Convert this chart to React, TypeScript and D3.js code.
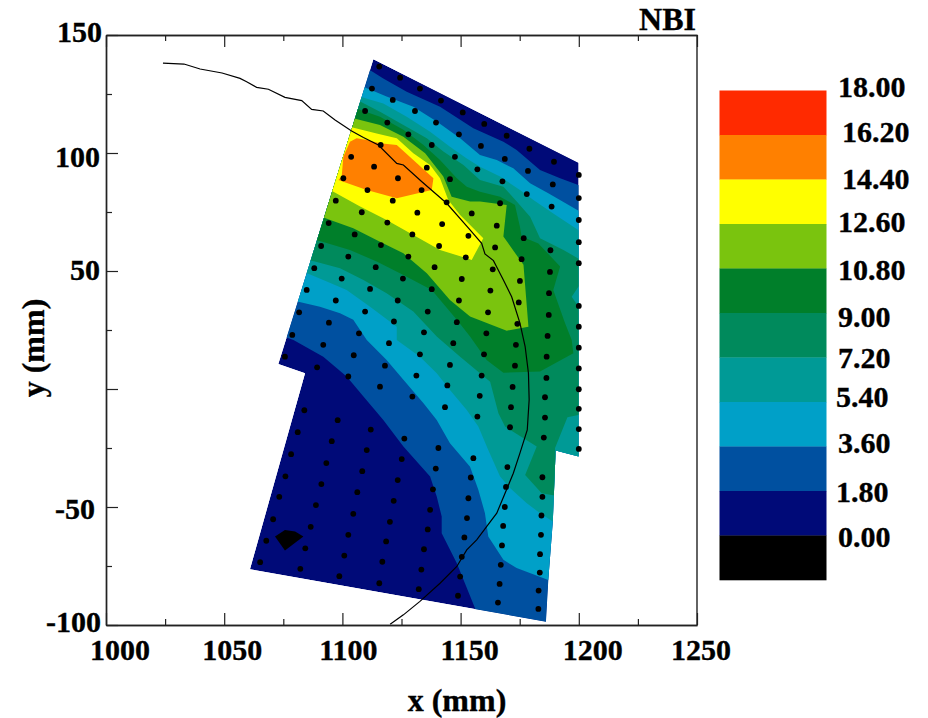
import * as d3 from "d3";
import {useEffect, useRef} from "react";

type Pt = [number, number];

// outline of the scanned area (mm)
const outline: Pt[] = [[1113.1,139.7],[1199.9,95.9],[1199.9,-28.6],[1190.2,-26.1],[1189,-56.2],[1187.1,-80.9],[1186.1,-98.6],[1060.9,-76.4],[1084.2,6.7],[1072.9,10.6]];

// filled regions, each one is "value >= level", painted low to high and clipped by the outline
const above1p8: Pt[] = [[1107.5,136.6],[1112.1,134.9],[1117.3,131.6],[1127.2,126],[1141.3,119.6],[1155.4,110.5],[1168.1,104.8],[1173.7,101.3],[1183.6,92.8],[1192.1,89.3],[1201.9,85.7],[1211.8,73],[1211.8,-110.5],[1158.2,-110.5],[1156.1,-92.9],[1148.4,-73.8],[1142,-61.1],[1142,-54],[1139.9,-45.6],[1137.1,-37.1],[1125.8,-24.4],[1117.3,-13.1],[1108.9,-3.2],[1101.8,5.3],[1091.9,13.7],[1079.3,20.8],[1076,21.9],[1070.8,22.9]];
const above3p6: Pt[] = [[1104.6,129.5],[1109.6,127.8],[1118.7,123.9],[1130,119.6],[1139.9,113.3],[1149.8,106.2],[1158.2,99.2],[1165.3,97],[1172.3,93.5],[1179.4,87.2],[1187.1,82.9],[1201.9,74.4],[1211.8,58.9],[1211.8,-83.7],[1187.1,-80.9],[1173.7,-75.9],[1168.1,-72.4],[1161.7,-62.5],[1160.3,-52.6],[1157.5,-42.7],[1154,-32.9],[1145.5,-23],[1139.9,-13.1],[1134.3,-6],[1125.8,3.9],[1118.7,12.3],[1110.3,20.8],[1104.6,29.3],[1099,32.1],[1090.5,34.9],[1081.4,37],[1073.6,38.4]];
const above5p4: Pt[] = [[1101.8,125.3],[1107.2,123.9],[1117.3,121],[1127.2,115.4],[1137.1,109],[1145.5,102.7],[1152.6,97.7],[1158.2,94.2],[1166.7,90],[1175.1,84.3],[1180.8,80.1],[1189.2,74.4],[1201.9,66],[1211.8,58.9],[1211.8,-58.3],[1189.2,-56.2],[1183.6,-52.6],[1178,-48.4],[1170.9,-42],[1166.7,-37.1],[1161.7,-25.8],[1157.5,-15.9],[1152.6,-8.9],[1145.5,-0.4],[1139.9,6.7],[1132.8,13.7],[1123,20.8],[1123,26.4],[1111.7,34.9],[1101.8,42],[1093.4,45.5],[1085.6,48.8],[1079.3,50.4]];
const above7p2: Pt[] = [[1101.8,122.5],[1107.5,121.8],[1115.9,117.5],[1125.8,111.9],[1135.7,106.2],[1142.7,100.6],[1151.2,94.9],[1158.2,88.6],[1168.1,85.7],[1174.4,78.7],[1179.4,73],[1183.6,63.9],[1193.5,58.9],[1203.3,53.3],[1203.3,44.8],[1199.9,43.4],[1197,39.1],[1199.9,34.9],[1203.3,33.5],[1203.3,-10.3],[1199.8,-11],[1195.2,-12],[1189.9,-25.1],[1192.1,-45.6],[1184.3,-44.2],[1177.3,-36.4],[1182.2,-24.4],[1168.8,-15.9],[1166,-10.3],[1162.5,3.1],[1158.2,6.7],[1149.8,13.7],[1139.9,22.2],[1130,32.8],[1118.7,40.6],[1108.9,46.2],[1099,51.2],[1088.4,54],[1082,55.4]];
const above9: Pt[] = [[1101.8,120.3],[1106.8,118.5],[1115.9,115.4],[1125.8,109.8],[1134.3,103.4],[1141.3,97],[1148.4,89.3],[1152.6,85.7],[1158.2,83.6],[1166.7,81.5],[1173,78],[1175.1,68.8],[1175.8,64.6],[1182.9,61.7],[1192.1,51.9],[1189.2,42],[1194.2,27.9],[1197,20.8],[1197.7,15.1],[1183.6,7.4],[1168.1,6.9],[1161,12.3],[1154,22.2],[1148.4,29.3],[1137.8,42],[1125.8,48.3],[1114.5,54],[1103.2,58.9],[1091.2,62.5],[1084.9,63.9]];
const above10p8: Pt[] = [[1100.4,116.1],[1104.6,114.7],[1115.9,111.9],[1125.8,106.9],[1135,99.9],[1142.7,90],[1146.2,81.5],[1154,79.4],[1158.2,79.4],[1169.5,78],[1168.1,64.6],[1176.6,52.6],[1178.7,26.4],[1169.5,24.7],[1154,30.7],[1145.5,37.7],[1135.7,49],[1125.8,57.5],[1115.9,62.4],[1104.6,68.1],[1094,71.9],[1087.7,74.4]];
const above12p6: Pt[] = [[1099,112.6],[1103.9,110.9],[1114.5,108.3],[1123,106.2],[1130,99.9],[1137.1,94.9],[1141.3,89.3],[1144.8,80.1],[1149.8,73.7],[1159.6,63.9],[1154.7,54.7],[1152.6,55.4],[1141.3,58.9],[1130,65.3],[1118.7,71.6],[1107.5,77.3],[1096.2,83.6],[1090.5,86.4]];
const above14p4: Pt[] = [[1106,106.2],[1103.2,104.8],[1100.4,98.4],[1099.7,90],[1098.3,88.6],[1110.3,84.3],[1123,80.8],[1137.8,84.3],[1138.5,89.3],[1130,97],[1123,103.4],[1115.9,104.1],[1110.3,105.5]];
const below0: Pt[] = [[1071.5,-62.5],[1075.7,-59.7],[1080,-60.4],[1083.5,-62.5],[1075.7,-68.4]];

// LCFS style curve
const boundaryCurve: Pt[] = [[1024.1,138.1],[1033,137.7],[1039.8,135.6],[1049.1,133.9],[1056.7,131.6],[1059.5,130.2],[1063.7,127.8],[1068.7,127],[1075.7,123.6],[1082.8,122.2],[1087,118.5],[1091.9,117.8],[1096.9,114],[1103.9,109.3],[1108.9,106.6],[1115.2,103.4],[1123,95.6],[1125.8,94.9],[1133.5,87.9],[1144.1,78.7],[1154,67.4],[1158.9,61.7],[1160.3,57.2],[1163.9,54.4],[1168.1,46.2],[1171.6,39.1],[1175.1,27.9],[1177.3,18],[1178.7,6.7],[1179,-4.6],[1178.2,-17.3],[1175.1,-27.2],[1172.3,-35.7],[1168.8,-44.2],[1165.3,-52.6],[1161,-58.3],[1156.8,-63.9],[1152.6,-68.2],[1148.4,-75.2],[1141.3,-82.3],[1132.8,-90],[1125.8,-95.7],[1120.2,-99.7]];

// measurement points
const pointsTop: Pt[] = [[1115.6,136.6],[1124.4,131.9],[1132.8,127.3],[1141.7,122.2],[1150.9,117.2],[1160,112.3],[1169.5,107.3],[1179.1,101.8],[1189.5,96.3],[1200,90.7],[1112.5,127.3],[1121.3,122.5],[1130.7,117.8],[1139.6,112.9],[1149.3,107.9],[1158.6,103],[1168.7,97.5],[1178.5,92.4],[1189,86.7],[1200,80.9],[1109.6,117.8],[1119,112.9],[1127.9,107.9],[1137.8,103.4],[1147.6,98.4],[1157.1,93.1],[1167.7,88],[1178,82.6],[1188.5,77.3],[1200,71.6]];
const pointsMiddle: Pt[] = [[1116.2,103.4],[1103.7,98.4],[1113.4,94.2],[1123.5,89.3],[1100.4,89.3],[1110.6,84.3],[1121.3,79.8],[1133.5,84.3],[1135.7,93.8],[1145.5,88.9],[1144.1,79.1],[1154.7,74.4],[1166.7,78.7],[1165.3,69.2],[1142.2,69.9],[1131.7,74.7],[1108.2,74.9],[1097.2,79.8],[1119,70.5],[1094.2,70.3],[1105.2,65.5],[1129.6,65.5],[1153.3,64.9],[1176.7,63.9],[1188,58.8],[1200,62.2],[1116.3,61],[1140.9,60.6],[1091,60.6],[1164.6,60],[1102.5,56.1],[1127.9,56.1],[1152.2,55.8],[1175.8,55],[1200,53.3],[1187.8,49.6],[1088.1,51.2],[1114.1,51.6],[1139,51.6],[1163.6,50.7],[1099.7,46.8],[1125.6,46.8],[1150.5,46.6],[1175.1,45.8],[1187.4,40.6],[1084.9,42],[1111.7,42.4],[1137.8,42.3],[1162.6,41.7],[1097.2,37.5],[1123.4,37.5],[1149.3,37.5],[1174.6,36.7],[1200,35.2],[1081.7,32.5],[1109.6,32.8],[1136.1,32.8],[1161.6,32.5],[1187.3,31.4],[1094.3,28.1],[1121.8,28.6],[1148.4,28.3],[1174,27.6],[1200,26.4],[1078.8,22.9],[1107,23.6],[1134.5,24],[1160.9,23.6],[1186.8,22.5],[1091.9,18.7],[1119.7,19.4],[1146.9,19.4],[1173.4,18.7],[1200,17.5]];
const pointsLower: Pt[] = [[1075.7,13.7],[1089.3,9.2],[1102.5,5.3],[1115.9,1],[1129.6,-3.2],[1143.4,-7.7],[1157.1,-11.7],[1170.9,-16.2],[1185.2,-20.6],[1200,-25.4],[1104.8,14.3],[1118,9.9],[1131.3,5.7],[1144.4,1.5],[1158.1,-2.9],[1171.3,-7.7],[1185.7,-12.1],[1200,-17],[1132.8,14.7],[1145.5,10.2],[1158.9,5.7],[1172,0.9],[1185.7,-3.5],[1200,-8.4],[1159.9,14.7],[1173,9.9],[1186.3,4.7],[1200,-0.1],[1186.4,13.7],[1200,8.7]];
const pointsBottom: Pt[] = [[1083.9,-9],[1098,-13.2],[1112,-17.2],[1126.2,-21],[1140.6,-25],[1155.4,-29.3],[1169.8,-33.1],[1184.6,-37.4],[1081.1,-18.3],[1095.5,-22.1],[1110.3,-25.9],[1125.1,-29.7],[1139.5,-33.7],[1154.3,-37.5],[1169.2,-41.5],[1184.6,-45.7],[1078.3,-27.6],[1093.2,-31.4],[1108.4,-34.8],[1123.4,-38.6],[1138.3,-42.5],[1153.3,-46.3],[1168.7,-50],[1184.2,-53.6],[1075.9,-37],[1091.1,-40.3],[1106.3,-43.7],[1121.7,-47.4],[1137.1,-51.2],[1152.7,-54.7],[1168,-58],[1184,-61.8],[1073.3,-45.7],[1088.8,-49.2],[1104.6,-52.9],[1120.1,-56.3],[1136.1,-59.5],[1151.6,-62.9],[1167.5,-66.3],[1183.6,-70],[1070.7,-55.2],[1086.6,-58.4],[1102.5,-61.8],[1118.5,-64.6],[1134.5,-67.9],[1150.5,-71.1],[1167,-74.5],[1183.5,-77.8],[1067.8,-64.3],[1084.3,-67.5],[1100.8,-70.6],[1116.9,-73.2],[1133.4,-76.5],[1149.8,-79.5],[1166.5,-82.6],[1183,-85.4],[1065.2,-73.4],[1082.2,-76.2],[1098.7,-79.3],[1115.6,-82.3],[1132.3,-84.8],[1148.9,-87.6],[1165.8,-90.5],[1182.9,-93.2]];

const xMajor = [1000, 1050, 1100, 1150, 1200, 1250];
const xMinor = [1025, 1075, 1125, 1175, 1225];
const yMajor = [150, 100, 50, 0, -50, -100];
const yMinor = [125, 75, 25, -25, -75];
const yLabelled = [150, 100, 50, -50, -100];

const legendLabels = ["18.00", "16.20", "14.40", "12.60", "10.80", "9.00", "7.20", "5.40", "3.60", "1.80", "0.00"];
const legendColors = ["#ff2a00", "#ff8000", "#ffff00", "#7ac40e", "#007f2a", "#008a5c", "#009a96", "#00a0c8", "#0050a0", "#000a78", "#000000"];

const FONT = "'Liberation Serif', serif";

const App = () => {
    const ref = useRef<SVGSVGElement>(null);

    useEffect(() => {
        const svg = d3.select(ref.current);
        svg.selectAll("*").remove();

        const margin = {top: 35, right: 231, bottom: 93, left: 106},
            width = 928 - margin.left - margin.right,
            height = 718 - margin.top - margin.bottom;

        const x = d3.scaleLinear().domain([1000, 1250]).range([margin.left, margin.left + width]);
        const y = d3.scaleLinear().domain([-100, 150]).range([margin.top + height, margin.top]);
        const poly = d3.line<Pt>().x(d => x(d[0])).y(d => y(d[1]));

        svg.append("clipPath").attr("id", "scan-area")
            .append("path").attr("d", poly(outline) + "Z");

        // contour bands
        const bands: [Pt[], string][] = [
            [outline, legendColors[9]],
            [above1p8, legendColors[8]],
            [above3p6, legendColors[7]],
            [above5p4, legendColors[6]],
            [above7p2, legendColors[5]],
            [above9, legendColors[4]],
            [above10p8, legendColors[3]],
            [above12p6, legendColors[2]],
            [above14p4, legendColors[1]],
            [below0, legendColors[10]],
        ];
        svg.append("g").attr("clip-path", "url(#scan-area)")
            .selectAll("path").data(bands).enter().append("path")
            .attr("d", d => poly(d[0]) + "Z")
            .attr("fill", d => d[1]);

        svg.append("path")
            .attr("d", poly(boundaryCurve))
            .attr("fill", "none")
            .attr("stroke", "#000")
            .attr("stroke-width", 1.2);

        const points = [...pointsTop, ...pointsMiddle, ...pointsLower, ...pointsBottom];
        svg.append("g").selectAll("circle").data(points).enter().append("circle")
            .attr("cx", d => x(d[0]))
            .attr("cy", d => y(d[1]))
            .attr("r", 2.9)
            .attr("fill", "#000");

        // axes, ticks point inwards. no ticks on the right hand side
        const axisStyle = (g: any) => {
            g.selectAll("path").attr("stroke", "#222").attr("stroke-width", 1.4);
            g.selectAll("line").attr("stroke", "#222").attr("stroke-width", 1.2);
            g.selectAll("text").remove();
        };
        const addAxis = (axis: any, major: number[], minor: number[], pos: string) => {
            svg.append("g").attr("transform", pos)
                .call(axis.tickValues(major).tickSizeInner(-12).tickSizeOuter(0)).call(axisStyle);
            svg.append("g").attr("transform", pos)
                .call(axis.tickValues(minor).tickSizeInner(-6).tickSizeOuter(0)).call(axisStyle);
        };
        addAxis(d3.axisBottom(x), xMajor, xMinor, `translate(0,${margin.top + height})`);
        addAxis(d3.axisTop(x), xMajor, xMinor, `translate(0,${margin.top})`);
        addAxis(d3.axisLeft(y), yMajor, yMinor, `translate(${margin.left},0)`);
        svg.append("line")
            .attr("x1", margin.left + width).attr("x2", margin.left + width)
            .attr("y1", margin.top).attr("y2", margin.top + height)
            .attr("stroke", "#222").attr("stroke-width", 1.4);

        const label = (txt: string, px: number, py: number, size: number, anchor: string) =>
            svg.append("text")
                .attr("x", px).attr("y", py)
                .attr("font-family", FONT).attr("font-weight", "bold")
                .attr("font-size", size).attr("text-anchor", anchor)
                .attr("fill", "#000")
                .attr("stroke", "#000").attr("stroke-width", 0.35)
                .text(txt);

        // tick labels sit a bit off their ticks in the original
        const xLabelDx = [14, 8, 6, 9, 14, 4];
        xMajor.forEach((v, i) => label(String(v), x(v) + xLabelDx[i], margin.top + height + 35, 30, "middle"));
        const yLabelDy = [7, 14, 9, 12, 7];
        const yLabelRight = [102, 100, 100, 95, 101];
        yLabelled.forEach((v, i) => label(String(v), yLabelRight[i], y(v) + yLabelDy[i], 30, "end"));

        label("x (mm)", 457, 711, 32, "middle");
        label("y (mm)", 0, 0, 32, "middle").attr("transform", "translate(44,348) rotate(-90)");
        label("NBI", 696, 30, 32, "end");

        // colour key
        const legendY = d3.scaleBand<string>().domain(legendColors).range([90.5, 580]);
        svg.append("g").selectAll("rect").data(legendColors).enter().append("rect")
            .attr("x", 719.5)
            .attr("y", d => legendY(d)!)
            .attr("width", 107)
            .attr("height", legendY.bandwidth() + 0.3)
            .attr("fill", d => d);
        const legendLabelX = [838, 842, 842, 838, 838, 838, 838, 836, 838, 836, 838];
        const legendLabelBase = [97, 142, 189, 232, 280, 327, 368, 407, 453, 502, 547];
        legendLabels.forEach((t, i) => label(t, legendLabelX[i], legendLabelBase[i], 30, "start"));
    }, []);

    return <svg ref={ref} width={928} height={718} style={{position: "absolute", left: 0, top: 0, background: "#fff"}}/>;
};

export default App;
